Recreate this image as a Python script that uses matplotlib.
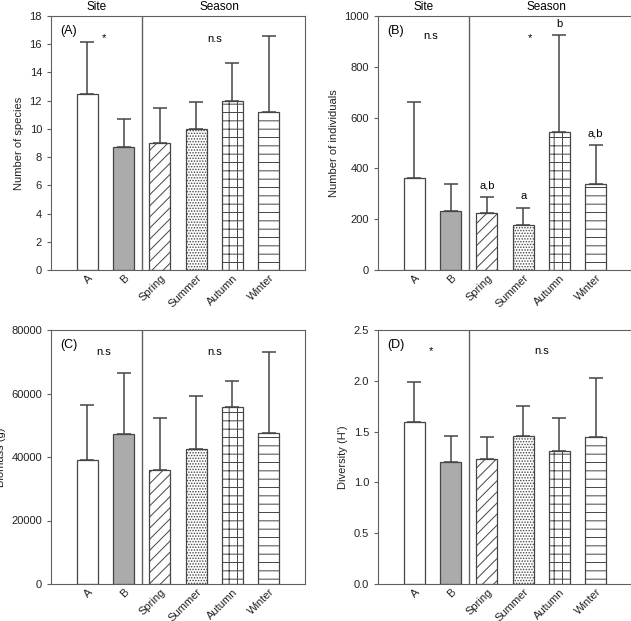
import matplotlib.pyplot as plt
import numpy as np

plt.rcParams['font.family'] = ['Liberation Sans', 'DejaVu Sans']
plt.rcParams['font.size'] = 8

groups = ['A', 'B', 'Spring', 'Summer', 'Autumn', 'Winter']

species = [12.5, 8.7, 9.0, 10.0, 12.0, 11.2]
species_sd = [3.65, 2.0, 2.5, 1.9, 2.7, 5.4]

individuals = [363, 231, 223, 177, 545, 340]
individuals_sd = [300, 109, 64, 68, 380, 153]

biomass = [39000, 47200, 36000, 42600, 55600, 47500]
biomass_sd = [17500, 19300, 16200, 16500, 8400, 25500]

diversity = [1.59, 1.20, 1.23, 1.46, 1.31, 1.45]
diversity_sd = [0.40, 0.26, 0.22, 0.29, 0.32, 0.58]

# letters above the season bars in (B)
letters_b = ['', '', 'a,b', 'a', 'b', 'a,b']

fills = ['white', '#ababab', 'white', 'white', 'white', 'white']
hatches = [None, None, '///', '......', '++', '--']
edge = '#454545'

fig = plt.figure(figsize=(6.31, 6.21), dpi=100)
plt.rcParams['hatch.color'] = '#404040'
plt.rcParams['hatch.linewidth'] = 0.7

boxes = {
    'A': [51/631, 1-270/621, 254/631, 254/621],
    'B': [378/631, 1-270/621, 254/631, 254/621],
    'C': [51/631, 1-584/621, 254/631, 254/621],
    'D': [378/631, 1-584/621, 254/631, 254/621],
}


def panel(key, vals, sd, ylim, yticks, ylabel, site_note, season_note, note_y, header=False):
    ax = fig.add_axes(boxes[key])
    x = np.arange(len(groups))
    for i in range(len(groups)):
        ax.bar(x[i], vals[i], width=0.58, color=fills[i], edgecolor=edge,
               hatch=hatches[i], linewidth=0.9, zorder=2)
    ax.errorbar(x, vals, yerr=[np.zeros(len(vals)), sd], fmt='none',
                ecolor=edge, elinewidth=1.1, capsize=5, capthick=1.1, zorder=3)
    ax.axvline(1.5, color='#606060', lw=1.0)
    ax.set_xlim(-1, 6)
    ax.set_ylim(*ylim)
    ax.set_yticks(yticks)
    ax.set_xticks(x)
    ax.set_xticklabels(groups, rotation=45, ha='right', rotation_mode='anchor')
    ax.tick_params(axis='both', direction='out', length=3, color='#606060', labelcolor='#222222')
    ax.tick_params(axis='x', length=0, pad=2)
    for s in ax.spines.values():
        s.set_color('#606060')
    ax.set_ylabel(ylabel, color='#222222')
    ax.text(-0.75, ylim[1] * 0.94, '(' + key + ')', ha='left', va='center', fontsize=9)
    ax.text(0.45, note_y, site_note, ha='center', va='center', fontsize=8)
    ax.text(3.5, note_y, season_note, ha='center', va='center', fontsize=8)
    if header:
        ax.text(0.25, ylim[1] * 1.01, 'Site', ha='center', va='bottom', fontsize=8.5)
        ax.text(3.65, ylim[1] * 1.01, 'Season', ha='center', va='bottom', fontsize=8.5)
    return ax


panel('A', species, species_sd, (0, 18), np.arange(0, 19, 2), 'Number of species',
      '*', 'n.s', 16.4, header=True)
axb = panel('B', individuals, individuals_sd, (0, 1000), np.arange(0, 1001, 200),
            'Number of individuals', 'n.s', '', 920, header=True)
axb.text(3.2, 915, '*', ha='center', va='center', fontsize=8)
for i, lab in enumerate(letters_b):
    if lab:
        axb.text(i, individuals[i] + individuals_sd[i] + 25, lab, ha='center', va='bottom', fontsize=8)
panel('C', biomass, biomass_sd, (0, 80000), np.arange(0, 80001, 20000), 'Biomass (g)',
      'n.s', 'n.s', 73200)
panel('D', diversity, diversity_sd, (0, 2.5), np.arange(0, 2.51, 0.5), "Diversity (H')",
      '*', 'n.s', 2.29)

fig.savefig('out.png', dpi=100)
